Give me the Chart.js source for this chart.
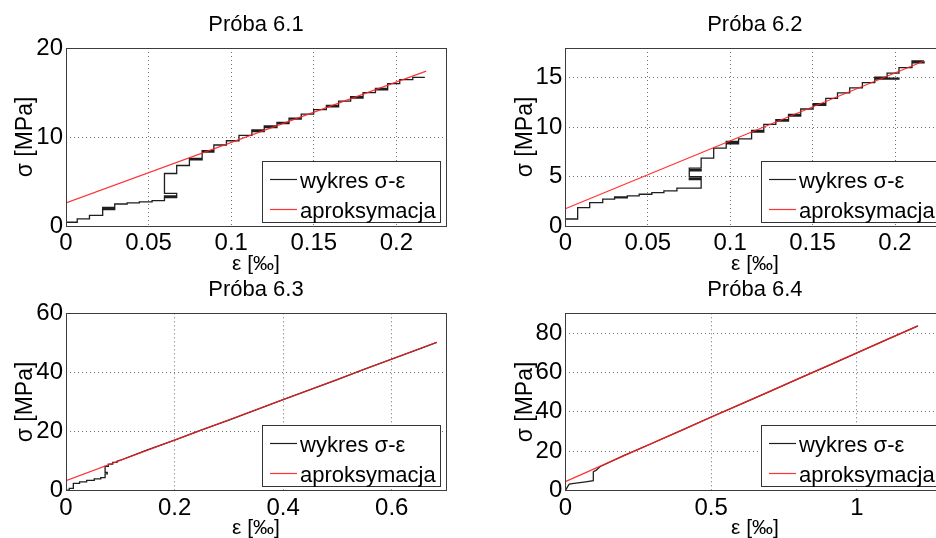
<!DOCTYPE html>
<html><head><meta charset="utf-8">
<script src="https://cdn.jsdelivr.net/npm/chart.js@4/dist/chart.umd.min.js"></script>
<style>
html,body{margin:0;padding:0;background:#fff;width:936px;height:538px;overflow:hidden;position:relative}
canvas{position:absolute}
</style></head><body>
<canvas id="c1" width="468" height="282" style="left:0px;top:0px"></canvas>
<canvas id="c2" width="480" height="282" style="left:468px;top:0px"></canvas>
<canvas id="c3" width="468" height="282" style="left:0px;top:270px"></canvas>
<canvas id="c4" width="480" height="282" style="left:468px;top:270px"></canvas>
<script>
// ---- texts ----
const titles = ['Próba 6.1', 'Próba 6.2', 'Próba 6.3', 'Próba 6.4'];
const xLabel = 'ε [‰]';
const yLabel = 'σ [MPa]';
const seriesNames = ['wykres σ-ε', 'aproksymacja'];

// ---- tick values / labels ----
const xTicks1 = [0, 0.05, 0.1, 0.15, 0.2];
const xTickLabels1 = ['0', '0.05', '0.1', '0.15', '0.2'];
const yTicks1 = [0, 10, 20];
const yTickLabels1 = ['0', '10', '20'];
const xTicks2 = [0, 0.05, 0.1, 0.15, 0.2];
const xTickLabels2 = ['0', '0.05', '0.1', '0.15', '0.2'];
const yTicks2 = [0, 5, 10, 15];
const yTickLabels2 = ['0', '5', '10', '15'];
const xTicks3 = [0, 0.2, 0.4, 0.6];
const xTickLabels3 = ['0', '0.2', '0.4', '0.6'];
const yTicks3 = [0, 20, 40, 60];
const yTickLabels3 = ['0', '20', '40', '60'];
const xTicks4 = [0, 0.5, 1];
const xTickLabels4 = ['0', '0.5', '1'];
const yTicks4 = [0, 20, 40, 60, 80];
const yTickLabels4 = ['0', '20', '40', '60', '80'];
const axisMax = [[0.23, 20], [0.23, 18], [0.7, 60], [1.3, 90]];

// ---- measured curves [strain, stress] ----
const curve61 = [[0,0.42],[0.0068,0.42],[0.0068,0.8],[0.0142,0.8],[0.0142,1.2],[0.0222,1.2],[0.0222,1.85],[0.0295,1.85],[0.0295,1.97],[0.0222,1.97],[0.0222,2.1],[0.0295,2.1],[0.0295,2.47],[0.037,2.47],[0.037,2.6],[0.0444,2.6],[0.0444,2.72],[0.0521,2.72],[0.0521,2.85],[0.0596,2.85],[0.0596,3.2],[0.067,3.2],[0.067,3.3],[0.0596,3.3],[0.0596,3.38],[0.067,3.38],[0.067,3.67],[0.0596,3.67],[0.0596,5.9],[0.067,5.9],[0.067,6.8],[0.0747,6.8],[0.0747,7.42],[0.0824,7.42],[0.0824,7.52],[0.0747,7.52],[0.0747,7.6],[0.0824,7.6],[0.0824,8.3],[0.0895,8.3],[0.0895,8.38],[0.0824,8.38],[0.0824,8.46],[0.0895,8.46],[0.0895,9.1],[0.0971,9.1],[0.0971,9.58],[0.1047,9.58],[0.1047,10.19],[0.1125,10.19],[0.1125,10.6],[0.12,10.6],[0.12,10.7],[0.1125,10.7],[0.1125,10.79],[0.12,10.79],[0.12,11.05],[0.1277,11.05],[0.1277,11.15],[0.12,11.15],[0.12,11.24],[0.1277,11.24],[0.1277,11.5],[0.135,11.5],[0.135,11.58],[0.1277,11.58],[0.1277,11.65],[0.135,11.65],[0.135,12.0],[0.1424,12.0],[0.1424,12.07],[0.135,12.07],[0.135,12.13],[0.1424,12.13],[0.1424,12.58],[0.1499,12.58],[0.1499,13.07],[0.1576,13.07],[0.1576,13.38],[0.165,13.38],[0.165,13.47],[0.1576,13.47],[0.1576,13.56],[0.165,13.56],[0.165,14.04],[0.1723,14.04],[0.1723,14.38],[0.1798,14.38],[0.1798,14.46],[0.1723,14.46],[0.1723,14.53],[0.1798,14.53],[0.1798,14.98],[0.1873,14.98],[0.1873,15.3],[0.1947,15.3],[0.1947,15.38],[0.1873,15.38],[0.1873,15.47],[0.1947,15.47],[0.1947,15.99],[0.202,15.99],[0.202,16.44],[0.2099,16.44],[0.2099,16.7],[0.2172,16.7]];
const fit61 = [[0, 2.6], [0.218, 17.4]];

const curve62 = [[0,0.71],[0.0075,0.71],[0.0075,1.86],[0.0148,1.86],[0.0148,2.36],[0.0227,2.36],[0.0227,2.71],[0.0299,2.71],[0.0299,2.85],[0.0376,2.85],[0.0376,2.9],[0.0299,2.9],[0.0299,2.95],[0.0376,2.95],[0.0376,3.04],[0.0448,3.04],[0.0448,3.21],[0.0525,3.21],[0.0525,3.38],[0.0598,3.38],[0.0598,3.55],[0.0677,3.55],[0.0677,3.82],[0.0824,3.82],[0.0824,4.7],[0.0752,4.7],[0.0752,4.85],[0.0824,4.85],[0.0824,5.0],[0.0752,5.0],[0.0752,5.58],[0.0824,5.58],[0.0824,5.7],[0.0752,5.7],[0.0752,5.85],[0.0824,5.85],[0.0824,6.87],[0.09,6.87],[0.09,7.88],[0.0976,7.88],[0.0976,8.3],[0.1051,8.3],[0.1051,8.42],[0.0976,8.42],[0.0976,8.55],[0.1051,8.55],[0.1051,8.82],[0.113,8.82],[0.113,9.5],[0.1204,9.5],[0.1204,9.58],[0.113,9.58],[0.113,9.67],[0.1204,9.67],[0.1204,10.27],[0.1277,10.27],[0.1277,10.6],[0.1354,10.6],[0.1354,10.68],[0.1277,10.68],[0.1277,10.75],[0.1354,10.75],[0.1354,11.12],[0.1428,11.12],[0.1428,11.2],[0.1354,11.2],[0.1354,11.29],[0.1428,11.29],[0.1428,11.83],[0.1503,11.83],[0.1503,12.2],[0.158,12.2],[0.158,12.28],[0.1503,12.28],[0.1503,12.37],[0.158,12.37],[0.158,12.91],[0.1651,12.91],[0.1651,13.46],[0.1725,13.46],[0.1725,13.97],[0.1802,13.97],[0.1802,14.5],[0.1877,14.5],[0.1877,14.85],[0.2024,14.85],[0.2024,14.95],[0.1877,14.95],[0.1877,15.05],[0.1952,15.05],[0.1952,15.45],[0.2024,15.45],[0.2024,16.02],[0.2103,16.02],[0.2103,16.5],[0.2176,16.5],[0.2176,16.6],[0.2103,16.6],[0.2103,16.7],[0.2176,16.7]];
const fit62 = [[0, 1.75], [0.2176, 16.68]];

const curve63 = [[0,0.2],[0.006,0.2],[0.006,0.8],[0.0135,0.8],[0.0135,2.5],[0.025,2.5],[0.025,3.0],[0.038,3.0],[0.038,3.5],[0.052,3.5],[0.052,4.0],[0.064,4.0],[0.064,4.4],[0.072,4.4],[0.072,5.7],[0.076,5.7],[0.076,6.2],[0.072,6.2],[0.072,8.2],[0.078,8.2],[0.078,9.0],[0.086,9.0],[0.086,9.6],[0.094,9.6],[0.094,10.0],[0.1,10.3],[0.15,13.8],[0.2,17.1],[0.25,20.6],[0.3,23.9],[0.35,27.3],[0.4,30.8],[0.45,34.2],[0.5,37.6],[0.55,41.1],[0.6,44.5],[0.65,47.9],[0.683,50.2]];
const fit63 = [[0, 3.4], [0.683, 50.2]];

const curve64 = [[0,0],[0.005,1.3],[0.01,2.6],[0.0137,3.3],[0.03,3.7],[0.05,4.1],[0.07,4.5],[0.096,5.1],[0.096,9.6],[0.105,10.3],[0.12,12.3],[0.2,17.8],[0.3,24.2],[0.4,30.7],[0.5,37.4],[0.6,43.8],[0.7,50.3],[0.8,56.9],[0.9,63.3],[1.0,69.9],[1.1,76.5],[1.209,83.6]];
const fit64 = [[0, 4.6], [1.209, 83.6]];

// ---- styling ----
const FONT = '"Liberation Sans", Arial, Helvetica, sans-serif';
Chart.defaults.font.family = FONT;
Chart.defaults.color = '#000';

const frameAndLegend = {
  id: 'frameAndLegend',
  afterDatasetsDraw(chart) {
    const {ctx, chartArea: a} = chart;
    ctx.save();
    ctx.strokeStyle = '#3c3c3c';
    ctx.lineWidth = 1;
    ctx.strokeRect(Math.round(a.left) + 0.5, Math.round(a.top) + 0.5, Math.round(a.right - a.left), Math.round(a.bottom - a.top));
    const w = 178, h = 61;
    const x0 = Math.round(a.right - 6 - w), y0 = Math.round(a.bottom - 4.5 - h);
    ctx.fillStyle = '#fff';
    ctx.fillRect(x0, y0, w, h);
    ctx.strokeStyle = '#333';
    ctx.strokeRect(x0 + 0.5, y0 + 0.5, w, h);
    chart.data.datasets.forEach((ds, i) => {
      const y = y0 + 18 + i * 30;
      ctx.strokeStyle = ds.borderColor;
      ctx.lineWidth = 1.2;
      ctx.beginPath(); ctx.moveTo(x0 + 8, y + 0.5); ctx.lineTo(x0 + 35, y + 0.5); ctx.stroke();
      ctx.fillStyle = '#000';
      ctx.font = '22px ' + FONT;
      ctx.textBaseline = 'alphabetic';
      ctx.textAlign = 'left';
      ctx.fillText(ds.label, x0 + 38, y + 8.5);
    });
    ctx.restore();
  }
};

function pts(arr) { return arr.map(p => ({x: p[0], y: p[1]})); }

function makeChart(id, W, H, ca, title, curve, fit, xT, xTL, yT, yTL, xMax, yMax) {
  const tLH = 22 * 1.2, lLH = 21 * 1.2, yLH = 23 * 1.2;
  const titleCenter = ca.t - 23;
  const tTop = titleCenter - tLH / 2;
  const tBot = ca.t - tTop - tLH;
  const xTitleBottom = H - (ca.b + 38) - lLH / 2;
  const yTitleTop = (ca.l - 40) - yLH / 2;
  new Chart(document.getElementById(id), {
    type: 'line',
    data: {
      datasets: [
        {label: seriesNames[0], data: pts(curve), borderColor: '#1e1e1e', borderWidth: 1.3, pointRadius: 0, tension: 0, fill: false, order: 1},
        {label: seriesNames[1], data: pts(fit), borderColor: 'rgba(255,30,30,0.9)', borderWidth: 1.2, pointRadius: 0, tension: 0, fill: false, order: 0}
      ]
    },
    options: {
      responsive: false,
      animation: false,
      devicePixelRatio: 1,
      events: [],
      layout: {padding: {left: 0, right: W - ca.r, top: 0, bottom: 0}},
      plugins: {
        legend: {display: false},
        tooltip: {enabled: false},
        title: {display: true, text: title, fullSize: false, color: '#000',
                font: {size: 22, weight: 'normal', lineHeight: 1.2},
                padding: {top: tTop, bottom: tBot}}
      },
      scales: {
        x: {
          type: 'linear', min: 0, max: xMax,
          afterBuildTicks: s => { s.ticks = xT.map(v => ({value: v})); },
          afterFit: s => { s.height = H - ca.b; },
          ticks: {callback: v => xTL[xT.indexOf(v)], font: {size: 24, lineHeight: 1.2}, color: '#000', padding: 3, maxRotation: 0, autoSkip: false},
          grid: {color: '#707070', lineWidth: 1, drawTicks: false},
          border: {display: false, dash: [1, 3]},
          title: {display: true, text: xLabel, color: '#000', font: {size: 21, lineHeight: 1.2}, padding: {top: 0, bottom: xTitleBottom}}
        },
        y: {
          type: 'linear', min: 0, max: yMax,
          afterBuildTicks: s => { s.ticks = yT.map(v => ({value: v})); },
          afterFit: s => { s.width = ca.l; },
          ticks: {callback: v => yTL[yT.indexOf(v)], font: {size: 24, lineHeight: 1.2}, color: '#000', padding: 3, autoSkip: false},
          grid: {color: '#707070', lineWidth: 1, drawTicks: false},
          border: {display: false, dash: [1, 3]},
          title: {display: true, text: yLabel, color: '#000', font: {size: 23, lineHeight: 1.2}, padding: {top: yTitleTop, bottom: 0}}
        }
      }
    },
    plugins: [frameAndLegend]
  });
}

makeChart('c1', 468, 282, {l: 66, t: 48, r: 446, b: 226}, titles[0], curve61, fit61, xTicks1, xTickLabels1, yTicks1, yTickLabels1, axisMax[0][0], axisMax[0][1]);
makeChart('c2', 480, 282, {l: 97.3, t: 48, r: 476.5, b: 226}, titles[1], curve62, fit62, xTicks2, xTickLabels2, yTicks2, yTickLabels2, axisMax[1][0], axisMax[1][1]);
makeChart('c3', 468, 282, {l: 66, t: 43.3, r: 446, b: 220.7}, titles[2], curve63, fit63, xTicks3, xTickLabels3, yTicks3, yTickLabels3, axisMax[2][0], axisMax[2][1]);
makeChart('c4', 480, 282, {l: 97.3, t: 43.3, r: 476.5, b: 220.7}, titles[3], curve64, fit64, xTicks4, xTickLabels4, yTicks4, yTickLabels4, axisMax[3][0], axisMax[3][1]);
</script>
</body></html>
